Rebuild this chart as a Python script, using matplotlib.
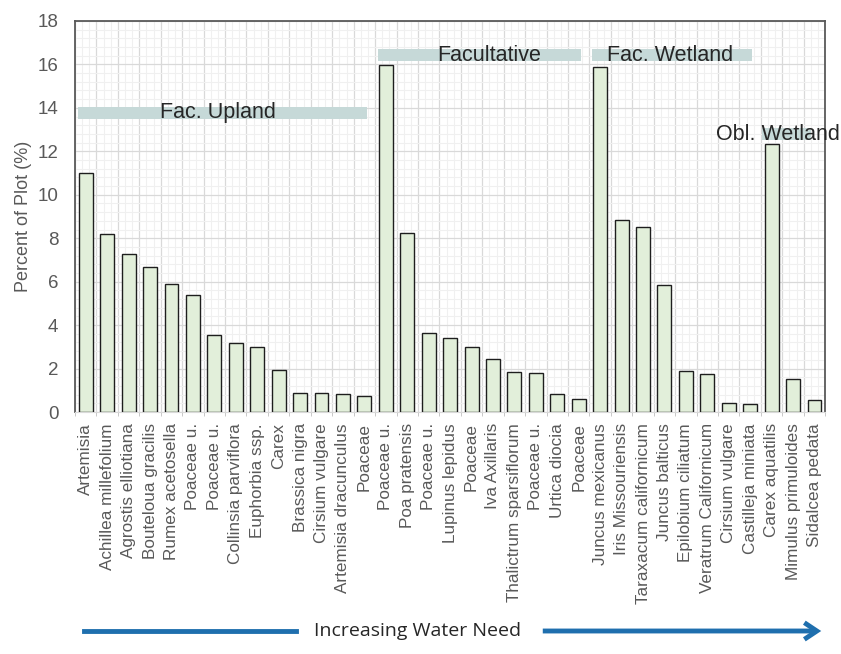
#!/usr/bin/env python

"""Percent cover by species, grouped by wetland indicator status"""

import matplotlib
matplotlib.use("Agg")
import matplotlib.pyplot as plt
import numpy as np

species = [
    "Artemisia", "Achillea millefolium", "Agrostis elliotiana", "Bouteloua gracilis",
    "Rumex acetosella", "Poaceae u.", "Poaceae u.", "Collinsia parviflora",
    "Euphorbia ssp.", "Carex", "Brassica nigra", "Cirsium vulgare",
    "Artemisia dracunculus", "Poaceae",
    "Poaceae u.", "Poa pratensis", "Poaceae u.", "Lupinus lepidus", "Poaceae",
    "Iva Axillaris", "Thalictrum sparsiflorum", "Poaceae u.", "Urtica diocia", "Poaceae",
    "Juncus mexicanus", "Iris Missouriensis", "Taraxacum californicum", "Juncus balticus",
    "Epilobium ciliatum", "Veratrum Californicum", "Cirsium vulgare", "Castilleja miniata",
    "Carex aquatilis", "Mimulus primuloides", "Sidalcea pedata",
]
percent = [
    11.0, 8.18, 7.26, 6.66, 5.91, 5.40, 3.56, 3.16, 2.98, 1.93, 0.86, 0.86, 0.81, 0.75,
    15.98, 8.26, 3.62, 3.42, 2.98, 2.43, 1.86, 1.78, 0.84, 0.61,
    15.87, 8.85, 8.53, 5.85, 1.90, 1.75, 0.43, 0.35,
    12.32, 1.50, 0.54,
]

# indicator groups: name, first bar index, last bar index
group_names = ["Fac. Upland", "Facultative", "Fac. Wetland", "Obl. Wetland"]
group_start = [0, 14, 24, 32]
group_end = [13, 23, 31, 34]

fig = plt.figure(figsize=(8.41, 6.54), dpi=100)
ax = fig.add_axes([0.0892, 0.370, 0.892, 0.598])

x = np.arange(len(species))
ax.bar(x, percent, width=0.65, color="#e2efda", edgecolor="#1e1e1e",
       linewidth=1.0, zorder=3)

ax.set_xlim(-0.5, len(species) - 0.5)
ax.set_ylim(0, 18)

# grid: category boundaries + thirds, y every 2 with 0.4 minors
for b in np.arange(-0.5, len(species), 1.0):
    for k in (1 / 3, 2 / 3):
        ax.axvline(b + k, color="#f0f0f0", lw=0.8, zorder=0)
ax.set_xticks(np.arange(-0.5, len(species), 1.0), minor=True)
ax.set_yticks(np.arange(0, 18.01, 2))
ax.set_yticks(np.arange(0, 18.01, 0.4), minor=True)
ax.grid(True, which="minor", axis="y", color="#f0f0f0", lw=0.8, zorder=0)
ax.grid(True, which="major", axis="y", color="#d9d9d9", lw=0.9, zorder=1)
ax.grid(True, which="minor", axis="x", color="#d9d9d9", lw=0.9, zorder=1)

ax.set_xticks(x)
ax.set_xticklabels(species, rotation=90, fontsize=12.3, color="#595959",
                   family="Liberation Sans")
ax.tick_params(axis="x", which="major", length=0, pad=8)
ax.tick_params(axis="x", which="minor", length=3, color="#bfbfbf")
ax.tick_params(axis="y", which="both", length=0, pad=12, labelsize=13.5,
               labelcolor="#595959")
for lab in ax.get_yticklabels():
    lab.set_family("Liberation Sans")

ax.set_ylabel("Percent of Plot (%)", fontsize=13, color="#595959",
              family="Liberation Sans", labelpad=4)

for side in ("left", "top", "right"):
    ax.spines[side].set_color("#595959")
    ax.spines[side].set_linewidth(1.3)
ax.spines["bottom"].set_color("#d9d9d9")

# group bands and labels
band_y = [13.78, 16.42, 16.42, 12.78]
label_x = [6.17, 18.84, 27.24, 32.3]
for i, name in enumerate(group_names):
    left = group_start[i] - 0.36
    right = group_end[i] + 0.1
    if i == 3:
        left = group_start[i] - 0.44
        right = group_end[i] - 0.14
    ax.fill_between([left, right], band_y[i] - 0.28, band_y[i] + 0.28,
                    color="#c6d9d8", zorder=4, lw=0)
    ax.text(label_x[i], band_y[i], name, ha="center", va="center",
            fontsize=15.5, color="#262626", family="Liberation Sans",
            zorder=5, clip_on=False)

# "Increasing Water Need" arrow below the labels
fig.text(0.497, 1 - 631 / 654, "Increasing Water Need", ha="center",
         va="center", fontsize=14, color="#262626", family="Open Sans")
arrow_color = "#1f6fae"
fig.add_artist(matplotlib.lines.Line2D([84 / 841, 296 / 841],
                                       [1 - 631 / 654] * 2,
                                       color=arrow_color, lw=3.5))
fig.add_artist(matplotlib.patches.FancyArrowPatch(
    (540 / 841, 1 - 631 / 654), (824 / 841, 1 - 631 / 654),
    transform=fig.transFigure, arrowstyle="->,head_length=6,head_width=4",
    color=arrow_color, lw=3.5, mutation_scale=1.5, capstyle="butt",
    joinstyle="miter"))

plt.savefig("out.png", dpi=100)
plt.close()
